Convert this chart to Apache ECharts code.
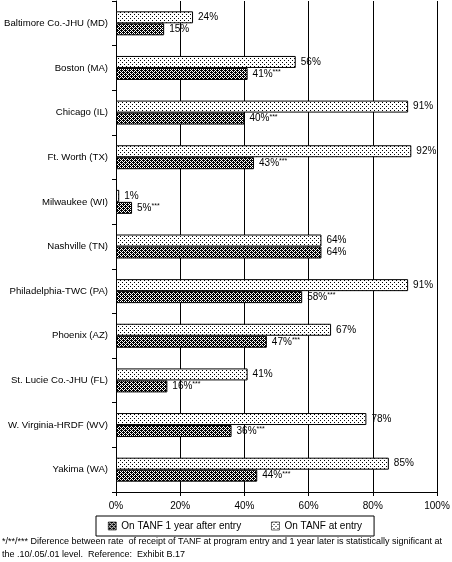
<!DOCTYPE html>
<html>
<head>
<meta charset="utf-8">
<script src="https://cdn.jsdelivr.net/npm/echarts@6/dist/echarts.min.js"></script>
<style>
  html, body { margin: 0; padding: 0; background: #fff; }
  #chart { width: 452px; height: 562px; }
</style>
</head>
<body>
<div id="chart"></div>
<script>
// data
const sites = [
  'Baltimore Co.-JHU (MD)', 'Boston (MA)', 'Chicago (IL)', 'Ft. Worth (TX)',
  'Milwaukee (WI)', 'Nashville (TN)', 'Philadelphia-TWC (PA)', 'Phoenix (AZ)',
  'St. Lucie Co.-JHU (FL)', 'W. Virginia-HRDF (WV)', 'Yakima (WA)'
]
const atEntry = [24, 56, 91, 92, 1, 64, 91, 67, 41, 78, 85]
const afterYear = [15, 41, 40, 43, 5, 64, 58, 47, 16, 36, 44]
const afterStars = ['', '***', '***', '***', '***', '', '***', '***', '***', '***', '***']
const xTicks = [0, 20, 40, 60, 80, 100]
const seriesNames = ['On TANF 1 year after entry', 'On TANF at entry']
const footnote = [
  '*/**/*** Diference between rate  of receipt of TANF at program entry and 1 year later is statistically significant at',
  'the .10/.05/.01 level.  Reference:  Exhibit B.17'
]

// pixel fill patterns like the old bitmap chart
const makePattern = (size, blackAt) => {
  const c = document.createElement('canvas')
  c.width = size
  c.height = size
  const ctx = c.getContext('2d')
  ctx.fillStyle = '#fff'
  ctx.fillRect(0, 0, size, size)
  ctx.fillStyle = '#000'
  for (let y = 0; y < size; y++) {
    for (let x = 0; x < size; x++) {
      if (blackAt(x, y)) ctx.fillRect(x, y, 1, 1)
    }
  }
  return { image: c, repeat: 'repeat' }
}
// dense checker (a bit darker than 50%) and sparse dots
const darkFill = makePattern(4, (x, y) => (x + y) % 2 === 0 || (x === 1 && y === 2) || (x === 3 && y === 0))
const lightFill = makePattern(4, (x, y) => (x === 0 && y === 0) || (x === 2 && y === 2))

const font = 'Liberation Sans, Arial, sans-serif'

const chart = echarts.init(document.getElementById('chart'), null, { renderer: 'canvas' })

const option = {
  animation: false,
  backgroundColor: '#fff',
  textStyle: { fontFamily: font, color: '#000' },
  grid: { left: 116, right: 15, top: 1, bottom: 70, containLabel: false, outerBoundsMode: 'none' },
  legend: {
    left: 96,
    top: 516,
    data: seriesNames,
    icon: 'rect',
    itemWidth: 8,
    itemHeight: 8,
    itemGap: 30,
    padding: [5, 12, 5, 12],
    borderColor: '#000',
    borderWidth: 1,
    itemStyle: { borderWidth: 0.6, borderColor: '#000' },
    textStyle: { fontSize: 10, color: '#000', fontFamily: font }
  },
  xAxis: {
    type: 'value',
    min: xTicks[0],
    max: xTicks[xTicks.length - 1],
    interval: 20,
    axisLine: { show: true, lineStyle: { color: '#000', width: 1 } },
    axisTick: { show: true, length: 4, lineStyle: { color: '#000' } },
    splitLine: { show: true, lineStyle: { color: '#000', width: 1 } },
    axisLabel: { formatter: '{value}%', fontSize: 10, color: '#000', margin: 9 }
  },
  yAxis: {
    type: 'category',
    data: sites,
    inverse: true,
    axisLine: { show: true, lineStyle: { color: '#000', width: 1 } },
    axisTick: { show: true, length: 4, lineStyle: { color: '#000' } },
    axisLabel: { fontSize: 9.6, color: '#000', margin: 8 }
  },
  series: [
    {
      name: seriesNames[1],
      type: 'bar',
      data: atEntry,
      barWidth: 12,
      barGap: '0%',
      itemStyle: { color: lightFill, borderColor: '#000', borderWidth: 1 },
      label: {
        show: true,
        position: 'right',
        distance: 5,
        formatter: '{c}%',
        fontSize: 10,
        color: '#000'
      }
    },
    {
      name: seriesNames[0],
      type: 'bar',
      data: afterYear,
      barWidth: 12,
      barGap: '0%',
      itemStyle: { color: darkFill, borderColor: '#000', borderWidth: 1 },
      label: {
        show: true,
        position: 'right',
        distance: 5,
        formatter: (p) => '{v|' + p.value + '%}' + (afterStars[p.dataIndex] ? '{s|' + afterStars[p.dataIndex] + '}' : ''),
        rich: {
          v: { fontSize: 10, color: '#000', fontFamily: font },
          s: { fontSize: 7, color: '#000', fontFamily: font, verticalAlign: 'top', padding: [0, 0, 4, 0] }
        }
      }
    }
  ],
  graphic: footnote.map((t, i) => ({
    type: 'text',
    left: 2,
    top: 537 + i * 13,
    style: { text: t, fontSize: 9, fill: '#000', fontFamily: font }
  }))
}

chart.setOption(option)
</script>
</body>
</html>
